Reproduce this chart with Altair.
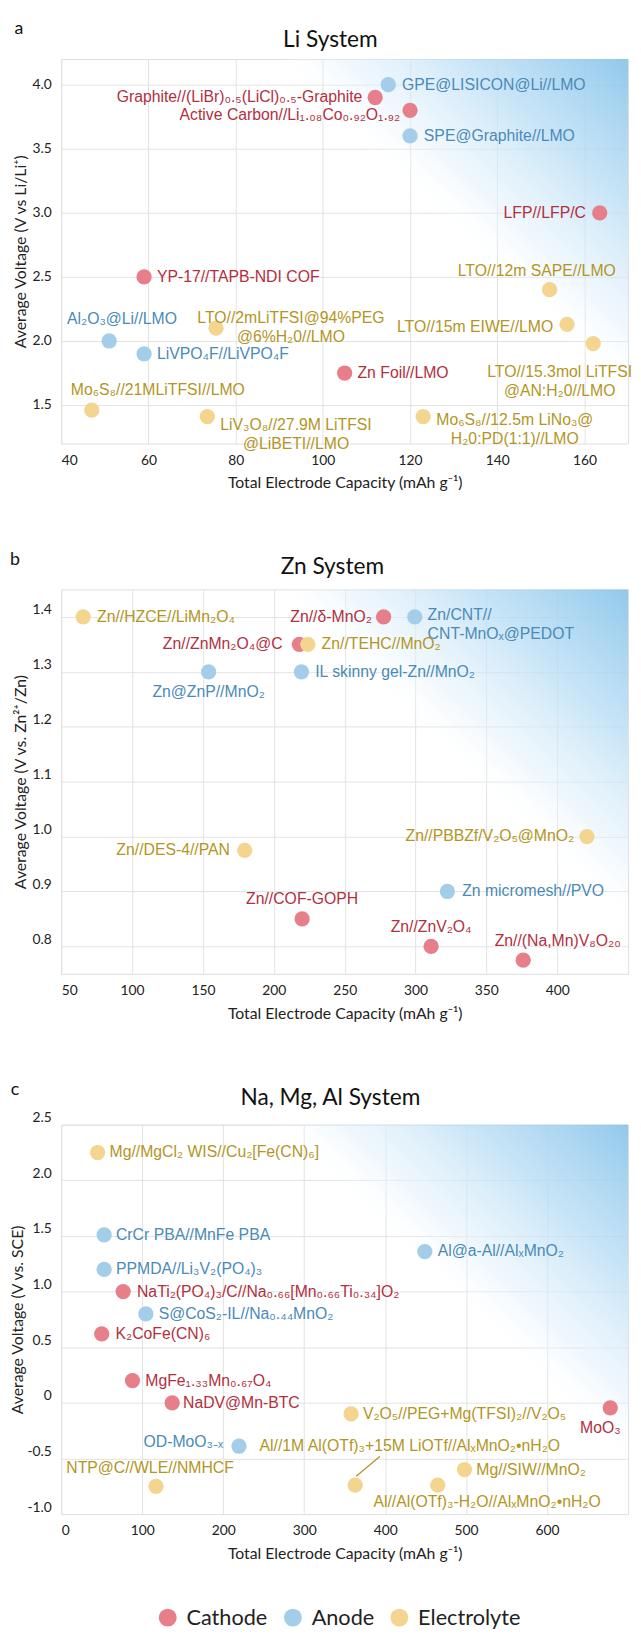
import altair as alt
import pandas as pd

CATS = ["Cathode", "Anode", "Electrolyte"]
POINT_COLORS = ["#e77f8a", "#a3cde9", "#f4d590"]
TEXT_COLORS = ["#b22f3e", "#4a8ab8", "#b39524"]
CAT_NAME = {"C": "Cathode", "A": "Anode", "E": "Electrolyte"}

# ---------------- Panel a : Li system ----------------
li_labels = [
    "GPE@LISICON@Li//LMO",
    "Graphite//(LiBr)₀.₅(LiCl)₀.₅-Graphite",
    "Active Carbon//Li₁.₀₈Co₀.₉₂O₁.₉₂",
    "SPE@Graphite//LMO",
    "LFP//LFP/C",
    "YP-17//TAPB-NDI COF",
    "LTO//12m SAPE//LMO",
    "LTO//2mLiTFSI@94%PEG\n@6%H₂0//LMO",
    "Al₂O₃@Li//LMO",
    "LTO//15m EIWE//LMO",
    "LTO//15.3mol LiTFSI\n@AN:H₂0//LMO",
    "LiVPO₄F//LiVPO₄F",
    "Zn Foil//LMO",
    "Mo₆S₈//21MLiTFSI//LMO",
    "LiV₃O₈//27.9M LiTFSI\n@LiBETI//LMO",
    "Mo₆S₈//12.5m LiNo₃@\nH₂0:PD(1:1)//LMO",
]
li_x = [115, 112, 120, 120, 163.5, 59, 152, 75.5, 51, 156, 162, 59, 105, 47, 73.5, 123]
li_y = [4.0, 3.9, 3.8, 3.6, 3.0, 2.5, 2.4, 2.1, 2.0, 2.13, 1.98, 1.9, 1.75, 1.46, 1.41, 1.41]
li_cat = ["A", "C", "C", "A", "C", "C", "E", "E", "A", "E", "E", "A", "C", "E", "E", "E"]
li_layout = [
    ("left", 14, 0), ("right", -13, 0), ("right", -10, 5), ("left", 14, 0),
    ("right", -14, 0), ("left", 13, 0), ("center", -13, -19), ("center", 76, -10),
    ("center", 13, -22), ("right", -14, 3), ("center", -34, 29), ("left", 13, 0),
    ("left", 13, 0), ("center", 67, -20), ("center", 90, 9), ("center", 93, 4),
]

# ---------------- Panel b : Zn system ----------------
zn_labels = [
    "Zn//HZCE//LiMn₂O₄",
    "Zn//δ-MnO₂",
    "Zn/CNT//\nCNT-MnOₓ@PEDOT",
    "Zn//ZnMn₂O₄@C",
    "Zn//TEHC//MnO₂",
    "Zn@ZnP//MnO₂",
    "IL skinny gel-Zn//MnO₂",
    "Zn//DES-4//PAN",
    "Zn//PBBZf/V₂O₅@MnO₂",
    "Zn micromesh//PVO",
    "Zn//COF-GOPH",
    "Zn//ZnV₂O₄",
    "Zn//(Na,Mn)V₈O₂₀",
]
zn_x = [65.5, 277.5, 299.5, 218, 224, 154, 219.5, 179.5, 421, 322.5, 220, 311, 376]
zn_y = [1.40, 1.40, 1.40, 1.35, 1.35, 1.30, 1.30, 0.975, 1.00, 0.90, 0.85, 0.80, 0.775]
zn_cat = ["E", "C", "A", "C", "E", "A", "A", "E", "E", "A", "C", "C", "C"]
zn_layout = [
    ("left", 14, 0), ("right", -12, 0), ("left", 13, -2), ("right", -17, 0),
    ("left", 14, 0), ("center", 0, 21), ("left", 14, 0), ("right", -15, 0),
    ("right", -13, 0), ("left", 15, 0), ("center", 0, -20), ("center", 0, -20),
    ("center", 35, -19),
]

# ---------------- Panel c : Na, Mg, Al system ----------------
na_labels = [
    "Mg//MgCl₂ WIS//Cu₂[Fe(CN)₆]",
    "CrCr PBA//MnFe PBA",
    "Al@a-Al//AlₓMnO₂",
    "PPMDA//Li₃V₂(PO₄)₃",
    "NaTi₂(PO₄)₃/C//Na₀.₆₆[Mn₀.₆₆Ti₀.₃₄]O₂",
    "S@CoS₂-IL//Na₀.₄₄MnO₂",
    "K₂CoFe(CN)₆",
    "MgFe₁.₃₃Mn₀.₆₇O₄",
    "NaDV@Mn-BTC",
    "V₂O₅//PEG+Mg(TFSI)₂//V₂O₅",
    "MoO₃",
    "OD-MoO₃₋ₓ",
    "Al//1M Al(OTf)₃+15M LiOTf//AlₓMnO₂•nH₂O",
    "Mg//SIW//MnO₂",
    "NTP@C//WLE//NMHCF",
    "Al//Al(OTf)₃-H₂O//AlₓMnO₂•nH₂O",
]
na_x = [45, 53, 449, 53, 76.5, 104.5, 50, 88, 137, 358, 678, 219.5, 363, 498, 117, 465]
na_y = [2.25, 1.51, 1.36, 1.20, 1.00, 0.80, 0.62, 0.20, 0.00, -0.10, -0.045, -0.39,
        -0.74, -0.60, -0.75, -0.74]
na_cat = ["E", "A", "A", "A", "C", "A", "C", "C", "C", "E", "C", "A", "E", "E", "E", "E"]
na_layout = [
    ("left", 12, 0), ("left", 12, 0), ("left", 13, 0), ("left", 12, 0),
    ("left", 14, 0), ("left", 13, 0), ("left", 14, 0), ("left", 13, 0),
    ("left", 11, 0), ("left", 12, 0), ("center", -10, 21), ("right", -16, -4),
    ("left", -97, -40), ("left", 12, 0), ("center", -6, -18), ("center", 50, 17),
]
na_leader_index = 12  # label connected to its point by a short line

FONT = "Lato"
LABEL_FONT = "Liberation Sans"

GRADIENT = alt.LinearGradient(
    gradient="linear",
    stops=[
        alt.GradientStop(offset=0, color="rgba(136,196,234,0.92)"),
        alt.GradientStop(offset=0.45, color="rgba(186,222,245,0.78)"),
        alt.GradientStop(offset=0.8, color="rgba(226,241,251,0.5)"),
        alt.GradientStop(offset=1, color="rgba(255,255,255,0)"),
    ],
    x1=1, y1=0, x2=0.58, y2=0.3,
)


def y_label_expr():
    return ("datum.value == 0 ? '0' : (datum.value < 0 ? '-' + format(-datum.value, '.1f')"
            " : format(datum.value, '.1f'))")


def make_panel(labels, xs, ys, cats, layout, xdom, ydom, xticks, yticks, title, letter,
               ytitle, width, height, ylab_offset, title_pos, letter_pos, ytitle_pad=4,
               show_legend=False, leader=None):
    df = pd.DataFrame({
        "i": list(range(len(labels))),
        "label": labels,
        "x": xs,
        "y": ys,
        "cat": [CAT_NAME[c] for c in cats],
    })
    xscale = alt.Scale(domain=xdom, nice=False, zero=False)
    yscale = alt.Scale(domain=ydom, nice=False, zero=False)
    xaxis = alt.Axis(values=xticks, title="Total Electrode Capacity (mAh g⁻¹)", grid=True,
                     domain=False, ticks=False, labelPadding=10, labelFont=FONT,
                     labelFontSize=14, labelColor="#222", titleFont=FONT, titleFontSize=16,
                     titleFontWeight="normal", titleColor="#222", titlePadding=8,
                     gridColor="#e3e3e3")
    yaxis = alt.Axis(values=yticks, title=ytitle, grid=True, domain=False, ticks=False,
                     labelPadding=10, labelFont=FONT, labelFontSize=14, labelColor="#222",
                     labelExpr=y_label_expr(), labelOffset=ylab_offset,
                     titleFont=FONT, titleFontSize=16, titleFontWeight="normal",
                     titleColor="#222", titlePadding=ytitle_pad, gridColor="#e3e3e3")
    if show_legend:
        legend = alt.Legend(orient="none", legendX=97, legendY=1570, direction="horizontal",
                            title=None, symbolType="circle", symbolSize=330,
                            symbolStrokeWidth=0, symbolOpacity=1, labelFont=FONT,
                            labelFontSize=22, labelColor="#222", labelOffset=8,
                            columnPadding=14, padding=0)
    else:
        legend = None

    one = pd.DataFrame({"k": [0]})
    bg = alt.Chart(one).mark_rect(color=GRADIENT).encode(
        x=alt.value(0), x2=alt.value(width), y=alt.value(0), y2=alt.value(height))

    pts = alt.Chart(df).mark_circle(size=240, opacity=1).encode(
        x=alt.X("x:Q", scale=xscale, axis=xaxis),
        y=alt.Y("y:Q", scale=yscale, axis=yaxis),
        fill=alt.Fill("cat:N", scale=alt.Scale(domain=CATS, range=POINT_COLORS),
                      legend=legend),
    )
    layers = [bg, pts]

    if leader is not None:
        lead = alt.Chart(df).transform_filter(alt.datum.i == leader).mark_rule(
            color=TEXT_COLORS[2], strokeWidth=1.3, xOffset=1, yOffset=-9,
            x2Offset=25, y2Offset=-29,
        ).encode(x="x:Q", x2="x", y="y:Q", y2="y")
        layers.append(lead)

    for k, (al, dx, dy) in enumerate(layout):
        t = alt.Chart(df).transform_filter(alt.datum.i == k).mark_text(
            align=al, baseline="middle", dx=dx, dy=dy, font=LABEL_FONT, fontSize=16,
            lineBreak="\n", lineHeight=19,
        ).encode(
            x="x:Q", y="y:Q", text="label:N",
            color=alt.Color("cat:N", scale=alt.Scale(domain=CATS, range=TEXT_COLORS),
                            legend=None),
        )
        layers.append(t)

    heads = pd.DataFrame({"t": [title]})
    ttl = alt.Chart(heads).mark_text(
        align="center", baseline="middle", font=FONT, fontSize=23, color="#111"
    ).encode(x=alt.value(title_pos[0]), y=alt.value(title_pos[1]), text="t:N")
    layers.append(ttl)

    let = alt.Chart(pd.DataFrame({"t": [letter]})).mark_text(
        align="center", baseline="middle", font=FONT, fontSize=18, color="#111"
    ).encode(x=alt.value(letter_pos[0]), y=alt.value(letter_pos[1]), text="t:N")
    layers.append(let)

    return alt.layer(*layers).properties(width=width, height=height)


pa = make_panel(li_labels, li_x, li_y, li_cat, li_layout, [40, 170], [1.2, 4.2],
                [40, 60, 80, 100, 120, 140, 160], [1.5, 2.0, 2.5, 3.0, 3.5, 4.0],
                "Li System", "a", "Average Voltage (V vs Li/Li⁺)", 575, 390, 0,
                (273, -19), (-43, -30), show_legend=True)
pb = make_panel(zn_labels, zn_x, zn_y, zn_cat, zn_layout, [50, 450], [0.75, 1.45],
                [50, 100, 150, 200, 250, 300, 350, 400], [0.8, 0.9, 1.0, 1.1, 1.2, 1.3, 1.4],
                "Zn System", "b", "Average Voltage (V vs. Zn²⁺/Zn)", 575, 390, -7,
                (275, -23), (-47, -30))
pc = make_panel(na_labels, na_x, na_y, na_cat, na_layout, [0, 700], [-1.0, 2.5],
                [0, 100, 200, 300, 400, 500, 600],
                [-1.0, -0.5, 0, 0.5, 1.0, 1.5, 2.0, 2.5],
                "Na, Mg, Al System", "c", "Average Voltage (V vs. SCE)", 575, 395, -7,
                (273, -27), (-47, -35), ytitle_pad=2, leader=na_leader_index)

chart = alt.vconcat(pa, pb, pc, spacing=59).properties(
    padding={"left": 0, "top": 0, "right": 0, "bottom": 4}
).configure_view(stroke=None).configure(background="white")

chart.save("out.html", embed_options={"renderer": "svg", "actions": False})
